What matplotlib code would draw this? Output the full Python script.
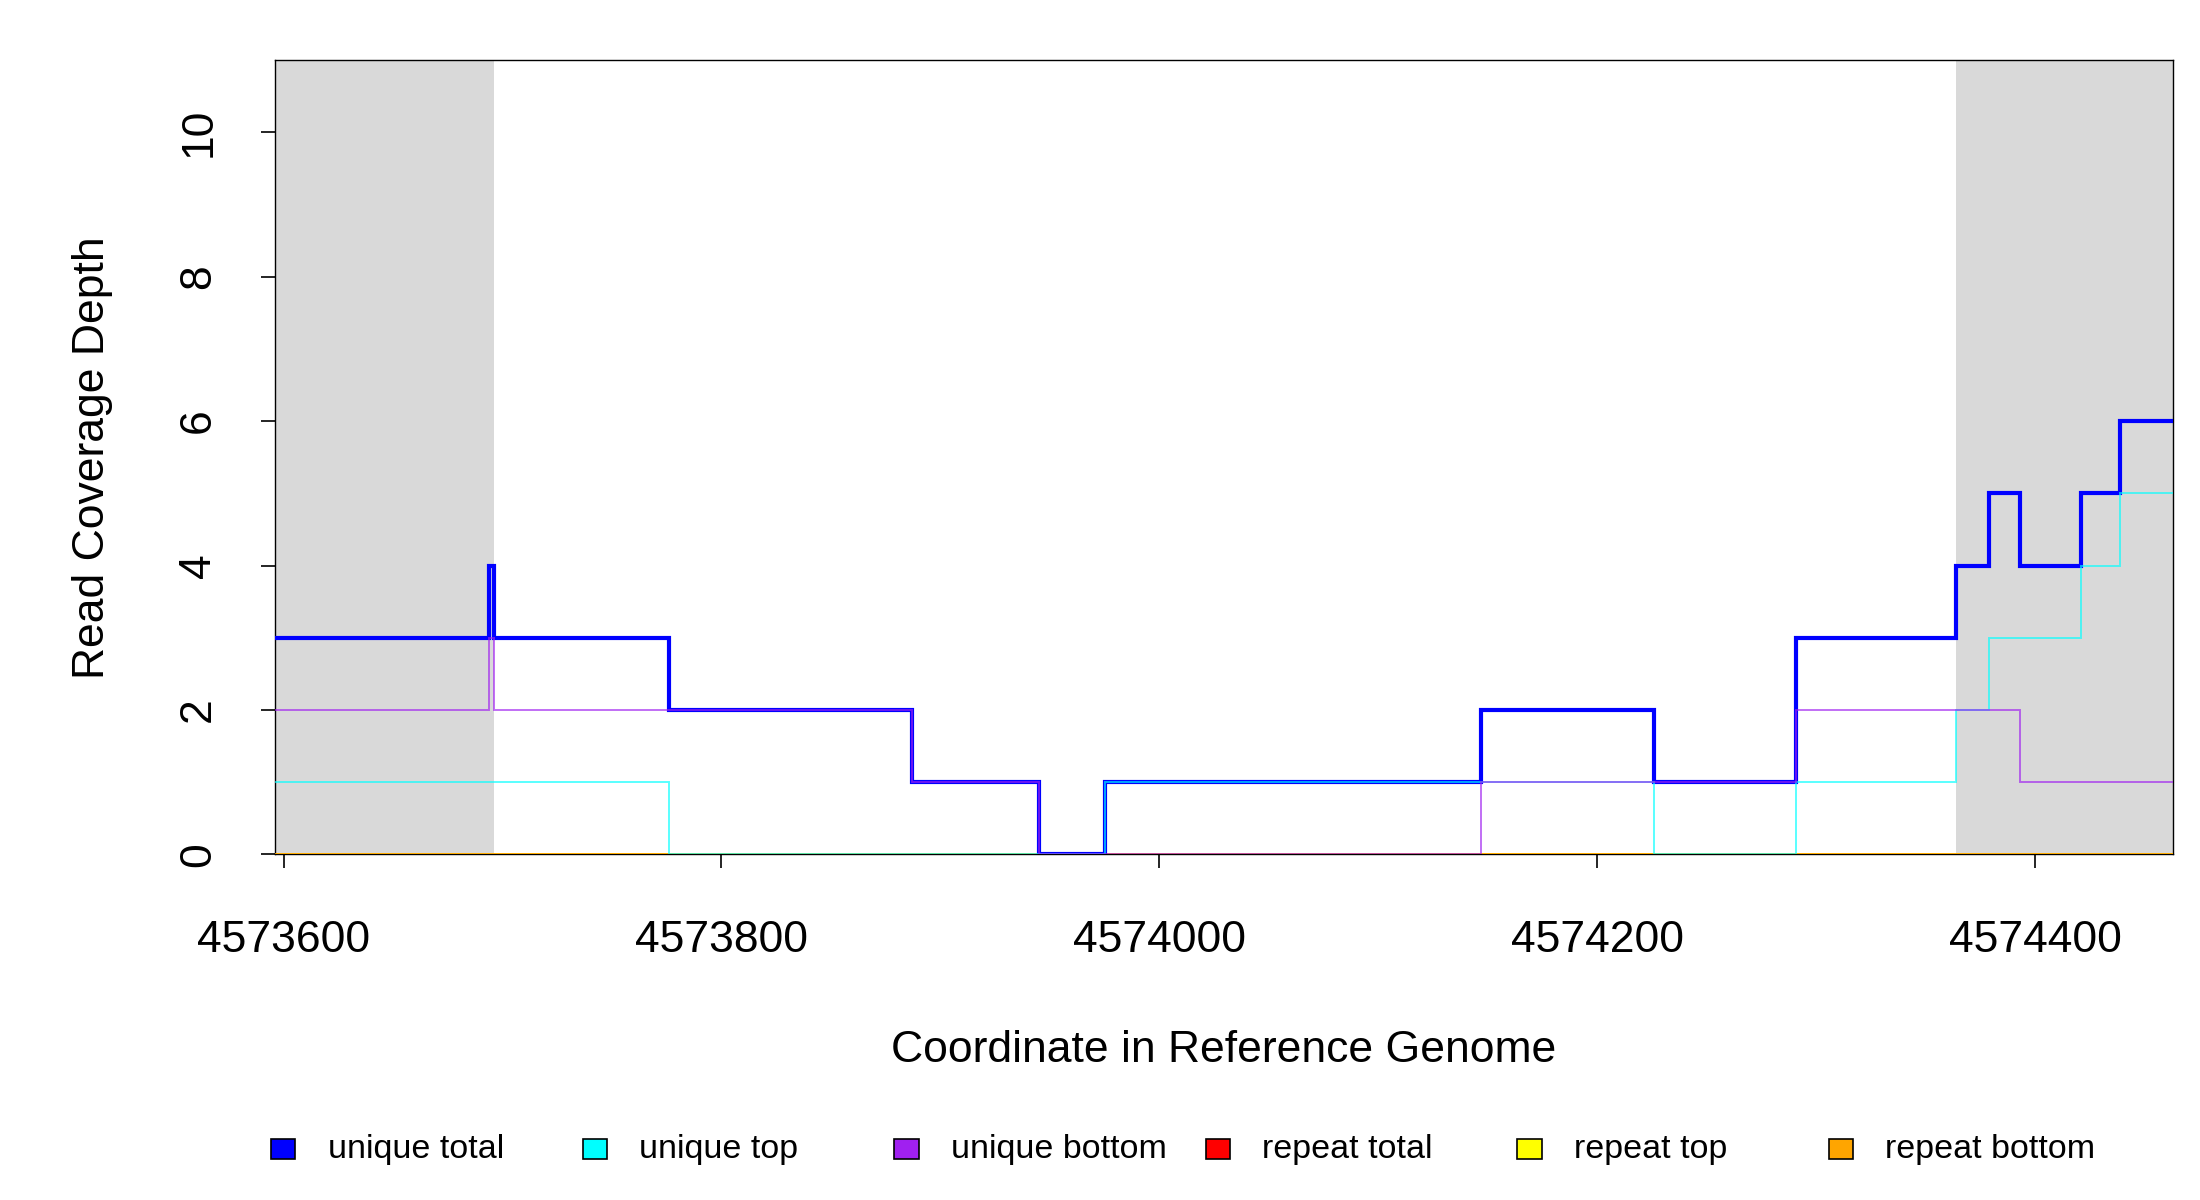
import matplotlib
matplotlib.use("Agg")
import matplotlib.pyplot as plt
from matplotlib.patches import Rectangle
from matplotlib.ticker import FixedLocator, FuncFormatter

plt.rcParams['font.family'] = ['Liberation Sans', 'DejaVu Sans']

# ---- data ----
edges = [4573596, 4573694, 4573696, 4573776, 4573887, 4573945, 4573975,
         4574147, 4574226, 4574291, 4574364, 4574379, 4574393, 4574421,
         4574439, 4574463]
unique_total = [3, 4, 3, 2, 1, 0, 1, 2, 1, 3, 4, 5, 4, 5, 6]
unique_top = [1, 1, 1, 0, 0, 0, 1, 1, 0, 1, 2, 3, 3, 4, 5]
unique_bottom = [2, 3, 2, 2, 1, 0, 0, 1, 1, 2, 2, 2, 1, 1, 1]
repeat_total = [0, 0, 0, 0, 0, 0, 0, 0, 0, 0, 0, 0, 0, 0, 0]
repeat_top = [0, 0, 0, 0, 0, 0, 0, 0, 0, 0, 0, 0, 0, 0, 0]
repeat_bottom = [0, 0, 0, 0, 0, 0, 0, 0, 0, 0, 0, 0, 0, 0, 0]
shaded_regions = [(4573596, 4573696), (4574364, 4574463)]
x_ticks = [4573600, 4573800, 4574000, 4574200, 4574400]
y_ticks = [0, 2, 4, 6, 8, 10]
legend_labels = ["unique total", "unique top", "unique bottom",
                 "repeat total", "repeat top", "repeat bottom"]
legend_colors = ["#0000FF", "#00FFFF", "#A020F0", "#FF0000", "#FFFF00", "#FFA500"]

fig = plt.figure(figsize=(22, 12), dpi=100)
ax = fig.add_axes([0.1249, 0.288, 0.8628, 0.662])

for (a, b) in shaded_regions:
    ax.axvspan(a, b, color="#D9D9D9", lw=0, zorder=1)

# repeat lines first
ax.stairs(repeat_total, edges, baseline=None, color=legend_colors[3], lw=2.0, zorder=3)
ax.stairs(repeat_top, edges, baseline=None, color=legend_colors[4], lw=2.0, zorder=3)
ax.stairs(repeat_bottom, edges, baseline=None, color=legend_colors[5], lw=2.0, zorder=3)
# unique lines
ax.stairs(unique_total, edges, baseline=None, color=legend_colors[0], lw=3.0, zorder=4)
ax.stairs(unique_top, edges, baseline=None, color=legend_colors[1], lw=1.4, alpha=0.65, zorder=5)
ax.stairs(unique_bottom, edges, baseline=None, color=legend_colors[2], lw=1.4, alpha=0.65, zorder=5)

ax.set_xlim(edges[0], edges[-1])
ax.set_ylim(0, 11)
ax.xaxis.set_major_locator(FixedLocator(x_ticks))
ax.yaxis.set_major_locator(FixedLocator(y_ticks))
ax.xaxis.set_major_formatter(FuncFormatter(lambda v, p: f"{int(round(v))}"))
ax.yaxis.set_major_formatter(FuncFormatter(lambda v, p: f"{int(round(v))}"))

for s in ax.spines.values():
    s.set_linewidth(1.0)
    s.set_color("black")
    s.set_zorder(2.5)

ax.tick_params(axis='both', direction='out', length=10, width=1.2, labelsize=32, colors='black')
ax.tick_params(axis='x', pad=37)
ax.tick_params(axis='y', pad=30, labelrotation=90)
for lab in ax.get_yticklabels():
    lab.set_va('center')

ax.set_xlabel("Coordinate in Reference Genome", fontsize=32)
ax.set_ylabel("Read Coverage Depth", fontsize=32)
ax.xaxis.set_label_coords(0.5, -0.221)
ax.yaxis.set_label_coords(-0.085, 0.5)

# legend row
lx0 = 0.1288
dx = 0.1416
ly = 0.0423
bw = 0.011
bh = 0.0166
for i, (lab, col) in enumerate(zip(legend_labels, legend_colors)):
    cx = lx0 + i * dx
    fig.patches.append(Rectangle((cx - bw / 2, ly - bh / 2), bw, bh,
                                 transform=fig.transFigure, facecolor=col,
                                 edgecolor="black", lw=1.2))
    fig.text(cx + 0.0201, ly, lab, fontsize=24.5, va='center', ha='left')

fig.savefig("out.png", dpi=100)
